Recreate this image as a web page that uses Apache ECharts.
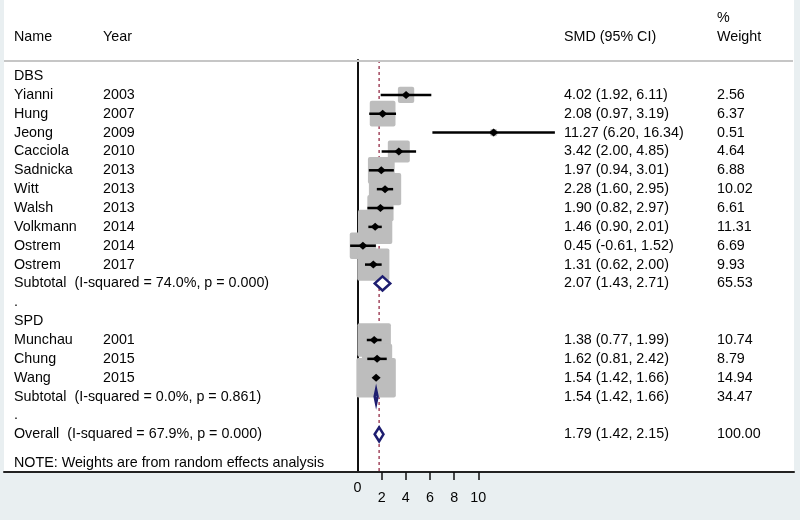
<!DOCTYPE html>
<html><head><meta charset="utf-8">
<script src="https://cdn.jsdelivr.net/npm/echarts@6/dist/echarts.min.js"></script>
<style>html,body{margin:0;padding:0;background:#e9eff1}#c{width:800px;height:520px}</style>
</head><body><div id="c"></div>
<script>
// ---- data ----
const groupLabels = ['DBS', 'SPD'];
const groupRows = [0, 13];
const studyNames = ['Yianni','Hung','Jeong','Cacciola','Sadnicka','Witt','Walsh','Volkmann','Ostrem','Ostrem','Munchau','Chung','Wang'];
const studyYears = ['2003','2007','2009','2010','2013','2013','2013','2014','2014','2017','2001','2015','2015'];
const studyEst = [4.02, 2.08, 11.27, 3.42, 1.97, 2.28, 1.90, 1.46, 0.45, 1.31, 1.38, 1.62, 1.54];
const studyLo  = [1.92, 0.97, 6.20, 2.00, 0.94, 1.60, 0.82, 0.90, -0.61, 0.62, 0.77, 0.81, 1.42];
const studyHi  = [6.11, 3.19, 16.34, 4.85, 3.01, 2.95, 2.97, 2.01, 1.52, 2.00, 1.99, 2.42, 1.66];
const studyWeight = [2.56, 6.37, 0.51, 4.64, 6.88, 10.02, 6.61, 11.31, 6.69, 9.93, 10.74, 8.79, 14.94];
const studyRows = [1,2,3,4,5,6,7,8,9,10,14,15,16];
const summaryLabels = ['Subtotal  (I-squared = 74.0%, p = 0.000)', 'Subtotal  (I-squared = 0.0%, p = 0.861)', 'Overall  (I-squared = 67.9%, p = 0.000)'];
const summaryEst = [2.07, 1.54, 1.79];
const summaryLo  = [1.43, 1.42, 1.42];
const summaryHi  = [2.71, 1.66, 2.15];
const summaryWeight = [65.53, 34.47, 100.00];
const summaryRows = [11, 17, 19];
const dotRows = [12, 18];
const noteText = 'NOTE: Weights are from random effects analysis';
const noteRow = 20.5;
const overallEst = 1.79;
const tickValues = [0, 2, 4, 6, 8, 10];
const headers = { name: 'Name', year: 'Year', smd: 'SMD (95% CI)', pct: '%', weight: 'Weight' };

// ---- build text rows ----
const FONT = '14.3px "Liberation Sans", Arial, sans-serif';
const TXT = '#050505';
const COLX = { name: 14, year: 103, smd: 564, weight: 717 };
const fmtCI = (e, l, h) => e.toFixed(2) + ' (' + l.toFixed(2) + ', ' + h.toFixed(2) + ')';
const textRows = [];
groupLabels.forEach((g, i) => textRows.push({ row: groupRows[i], cols: [[COLX.name, g]] }));
studyNames.forEach((n, i) => textRows.push({ row: studyRows[i], cols: [
  [COLX.name, n], [COLX.year, studyYears[i]],
  [COLX.smd, fmtCI(studyEst[i], studyLo[i], studyHi[i])], [COLX.weight, studyWeight[i].toFixed(2)]] }));
summaryLabels.forEach((n, i) => textRows.push({ row: summaryRows[i], cols: [
  [COLX.name, n], [COLX.smd, fmtCI(summaryEst[i], summaryLo[i], summaryHi[i])], [COLX.weight, summaryWeight[i].toFixed(2)]] }));
dotRows.forEach(r => textRows.push({ row: r, cols: [[COLX.name, '.']] }));
textRows.push({ row: noteRow, cols: [[COLX.name, noteText]] });

const chart = echarts.init(document.getElementById('c'), null, { renderer: 'canvas' });
const plotGrid = { left: 357.5, top: 60, width: 120.8, height: 412 };
const K = 10.2; // box side per sqrt(weight)

const option = {
  backgroundColor: '#e9eff1',
  animation: false,
  textStyle: { fontFamily: '"Liberation Sans", Arial, sans-serif' },
  grid: [
    Object.assign({}, plotGrid),
    { left: 4, top: 0, width: 790, height: 472, show: true, backgroundColor: '#ffffff', borderWidth: 0, z: -5 },
    Object.assign({}, plotGrid)
  ],
  xAxis: [
    { gridIndex: 0, type: 'value', min: 0, max: 10,
      axisLine: { show: false, onZero: false },
      axisTick: { show: true, customValues: tickValues.filter(v => v !== 0), length: 8, lineStyle: { color: '#111', width: 1.5 } },
      axisLabel: { customValues: tickValues.filter(v => v !== 0), margin: 19, fontSize: 14.3, color: TXT },
      splitLine: { show: false } },
    { gridIndex: 1, type: 'value', min: 0, max: 1,
      axisLine: { show: true, onZero: false, lineStyle: { color: '#222', width: 2 } },
      axisTick: { show: false }, axisLabel: { show: false }, splitLine: { show: false } },
    { gridIndex: 2, type: 'value', min: 0, max: 10,
      axisLine: { show: false, onZero: false }, axisTick: { show: false },
      axisLabel: { customValues: tickValues.filter(v => v === 0), margin: 9, fontSize: 14.3, color: TXT },
      splitLine: { show: false } }
  ],
  yAxis: [
    { gridIndex: 0, type: 'value', min: -0.85, max: 21, inverse: true,
      axisLine: { show: true, onZero: false, lineStyle: { color: '#111', width: 2 } },
      axisTick: { show: false }, axisLabel: { show: false }, splitLine: { show: false } },
    { gridIndex: 1, type: 'value', show: false, min: 0, max: 1 },
    { gridIndex: 2, type: 'value', show: false, min: 0, max: 1 }
  ],
  graphic: [
    { type: 'line', shape: { x1: 4, y1: 61, x2: 793, y2: 61 }, style: { stroke: '#c6c6c6', lineWidth: 2 }, z: 10 },
    { type: 'text', x: COLX.name, y: 37, style: { text: headers.name, font: FONT, fill: TXT, verticalAlign: 'middle' }, z: 10 },
    { type: 'text', x: COLX.year, y: 37, style: { text: headers.year, font: FONT, fill: TXT, verticalAlign: 'middle' }, z: 10 },
    { type: 'text', x: COLX.smd, y: 37, style: { text: headers.smd, font: FONT, fill: TXT, verticalAlign: 'middle' }, z: 10 },
    { type: 'text', x: COLX.weight, y: 18, style: { text: headers.pct, font: FONT, fill: TXT, verticalAlign: 'middle' }, z: 10 },
    { type: 'text', x: COLX.weight, y: 37, style: { text: headers.weight, font: FONT, fill: TXT, verticalAlign: 'middle' }, z: 10 }
  ],
  series: [
    { type: 'custom', xAxisIndex: 0, yAxisIndex: 0, z: 1, silent: true,
      data: [[overallEst, 0]],
      renderItem: (params, api) => {
        const cs = params.coordSys;
        const x = api.coord([api.value(0), 0])[0];
        return { type: 'line', shape: { x1: x, y1: cs.y, x2: x, y2: cs.y + cs.height },
          style: { stroke: '#a3485f', lineWidth: 1.5, lineDash: [3, 3] } };
      } },
    { type: 'custom', xAxisIndex: 0, yAxisIndex: 0, z: 2, silent: true, clip: false,
      data: studyEst.map((e, i) => [e, studyRows[i]]),
      renderItem: (params, api) => {
        const i = params.dataIndex;
        const c = api.coord([studyEst[i], studyRows[i]]);
        const s = K * Math.sqrt(studyWeight[i]);
        return { type: 'rect', shape: { x: c[0] - s / 2, y: c[1] - s / 2, width: s, height: s, r: 2 },
          style: { fill: '#bdbdbd' } };
      } },
    { type: 'custom', xAxisIndex: 0, yAxisIndex: 0, z: 3, silent: true, clip: false,
      data: studyEst.map((e, i) => [e, studyRows[i]]),
      renderItem: (params, api) => {
        const i = params.dataIndex;
        const c = api.coord([studyEst[i], studyRows[i]]);
        const pl = api.coord([studyLo[i], studyRows[i]]);
        const ph = api.coord([studyHi[i], studyRows[i]]);
        return { type: 'group', children: [
          { type: 'line', shape: { x1: pl[0], y1: pl[1], x2: ph[0], y2: ph[1] }, style: { stroke: '#000', lineWidth: 2.5 } },
          { type: 'polygon', shape: { points: [[c[0] - 4.5, c[1]], [c[0], c[1] - 4], [c[0] + 4.5, c[1]], [c[0], c[1] + 4]] }, style: { fill: '#000' } }
        ] };
      } },
    { type: 'custom', xAxisIndex: 0, yAxisIndex: 0, z: 4, silent: true, clip: false,
      data: summaryEst.map((e, i) => [e, summaryRows[i]]),
      renderItem: (params, api) => {
        const i = params.dataIndex;
        const c = api.coord([summaryEst[i], summaryRows[i]]);
        const pl = api.coord([summaryLo[i], summaryRows[i]]);
        const ph = api.coord([summaryHi[i], summaryRows[i]]);
        const h = 7;
        return { type: 'polygon', shape: { points: [[pl[0], c[1]], [c[0], c[1] - h], [ph[0], c[1]], [c[0], c[1] + h]] },
          style: { fill: '#fff', stroke: '#1d1d70', lineWidth: 2.5 } };
      } },
    { type: 'custom', xAxisIndex: 0, yAxisIndex: 0, z: 5, silent: true, clip: false,
      data: textRows.map(t => [0, t.row]),
      renderItem: (params, api) => {
        const t = textRows[params.dataIndex];
        const y = api.coord([0, t.row])[1];
        return { type: 'group', children: t.cols.map(c => ({
          type: 'text', x: c[0], y: y,
          style: { text: c[1], font: FONT, fill: TXT, verticalAlign: 'middle', align: 'left' } })) };
      } }
  ]
};
chart.setOption(option);
</script></body></html>
